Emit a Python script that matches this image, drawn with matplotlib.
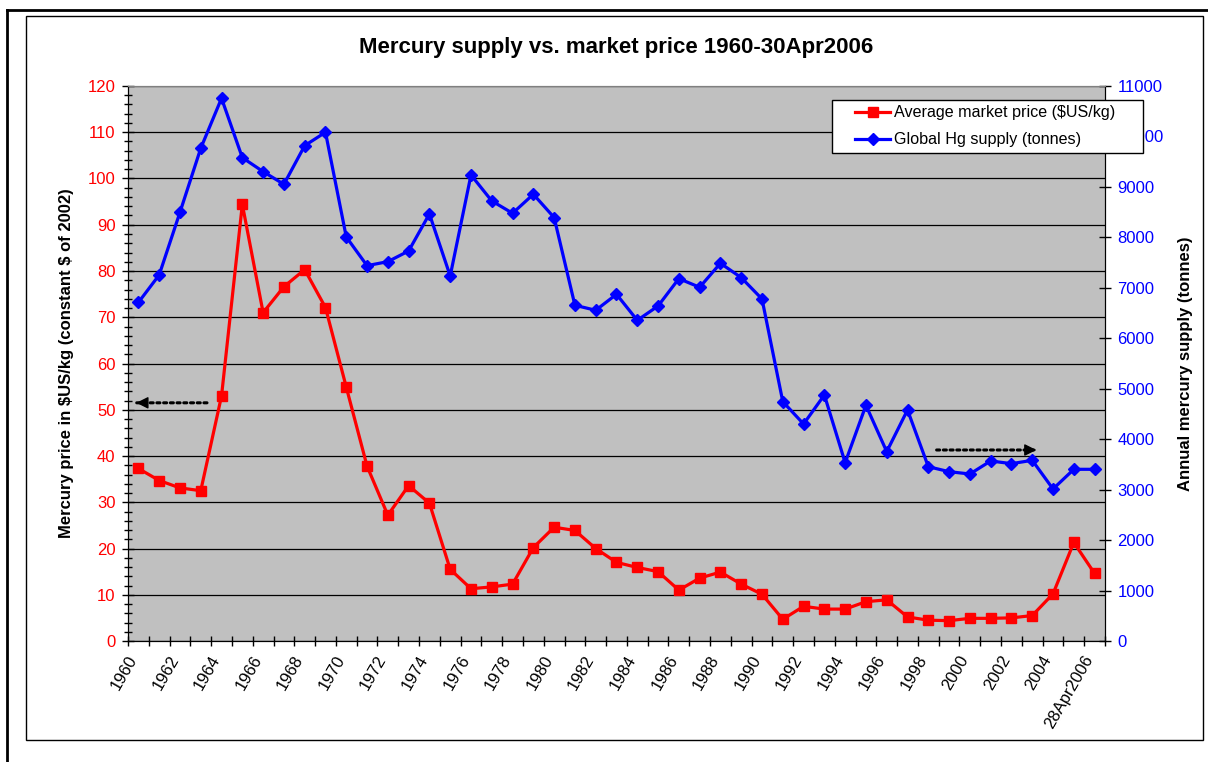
import matplotlib
matplotlib.use("Agg")
import matplotlib.pyplot as plt
from matplotlib.patches import Rectangle
from matplotlib.lines import Line2D
from matplotlib.legend_handler import HandlerLine2D
import numpy as np

plt.rcParams['font.family'] = ['Liberation Sans', 'DejaVu Sans']

# data
years = [str(y) for y in range(1960, 2006)] + ["28Apr2006"]
price = [37.3, 34.7, 33.1, 32.5, 53.0, 94.4, 71.0, 76.6, 80.3, 72.1,
         54.9, 37.8, 27.2, 33.6, 29.8, 15.5, 11.3, 11.7, 12.3, 20.2,
         24.6, 23.9, 20.0, 17.0, 15.9, 15.0, 11.0, 13.6, 14.9, 12.3,
         10.1, 4.7, 7.5, 6.9, 6.9, 8.5, 8.9, 5.2, 4.5, 4.4,
         4.9, 4.9, 5.0, 5.5, 10.2, 21.3, 14.6]
supply = [6710, 7255, 8497, 9766, 10757, 9580, 9303, 9052, 9818, 10083,
          8008, 7439, 7519, 7730, 8464, 7235, 9237, 8722, 8478, 8854,
          8393, 6654, 6555, 6872, 6356, 6640, 7182, 7011, 7487, 7202,
          6779, 4744, 4301, 4876, 3534, 4672, 3753, 4579, 3455, 3356,
          3310, 3568, 3515, 3581, 3013, 3403, 3403]
labels = ["Average market price ($US/kg)", "Global Hg supply (tonnes)"]

x = np.arange(len(years))

fig = plt.figure(figsize=(12.08, 7.62), dpi=100)
ax = fig.add_axes([0.10596, 0.15879, 0.80877, 0.72835])
ax2 = ax.twinx()

ax.set_facecolor('#C0C0C0')
ax.set_xlim(-0.5, len(years) - 0.5)
ax.set_ylim(0, 120)
ax2.set_ylim(0, 11000)

# gridlines
ax.set_yticks(np.arange(0, 121, 10))
ax.set_yticks(np.arange(0, 121, 2), minor=True)
ax.yaxis.grid(True, color='black', lw=0.9)
ax.set_axisbelow(True)

ax.plot(x, price, color='red', lw=2.3, marker='s', ms=6.5, zorder=3)
ax2.plot(x, supply, color='blue', lw=2.3, marker='D', ms=6.5, zorder=3)

# x ticks at category boundaries, labels at centres
ax.set_xticks(np.arange(-0.5, len(years)))
ax.set_xticklabels([])
for i in range(0, len(years), 2):
    ax.text(x[i] - 0.55, -2.6, years[i], rotation=60, ha='right', va='top',
            rotation_mode='anchor', fontsize=12)
ax.tick_params(axis='x', direction='inout', length=7, width=1, colors='black')

ax.tick_params(axis='y', which='major', direction='inout', length=8, width=1,
               labelcolor='red', labelsize=12, pad=5)
ax.tick_params(axis='y', which='minor', direction='inout', length=6, width=1)
ax2.set_yticks(np.arange(0, 11001, 1000))
ax2.tick_params(axis='y', direction='inout', length=8, width=1,
                labelcolor='blue', labelsize=12, pad=5)

ax.spines['top'].set_color('#808080')
ax2.spines['top'].set_color('#808080')

ax.set_ylabel("Mercury price in \\$US/kg (constant \\$ of 2002)", fontsize=12,
              fontweight='bold', labelpad=10)
ax2.set_ylabel("Annual mercury supply (tonnes)", fontsize=12,
               fontweight='bold', labelpad=10)
ax.set_title("Mercury supply vs. market price 1960-30Apr2006", fontsize=16,
             fontweight='bold', pad=24)

# dotted arrows pointing at the axes: dotted shaft + solid head
def dotted_arrow(x0, x1, y):
    ax.annotate("", xy=(x1, y), xytext=(x0, y),
                arrowprops=dict(arrowstyle='-', ls=(0, (1, 1.2)), lw=2.2,
                                color='black', shrinkA=0, shrinkB=0), zorder=4)
    d = 0.3 if x1 > x0 else -0.3
    ax.annotate("", xy=(x1, y), xytext=(x1 - d, y),
                arrowprops=dict(arrowstyle='-|>', lw=1, color='black',
                                mutation_scale=18, shrinkA=0, shrinkB=0),
                zorder=5)

dotted_arrow(3.3, -0.1, 51.5)
dotted_arrow(38.4, 43.2, 41.3)

handles = [Line2D([], [], color='red', lw=2.3, marker='s', ms=6.5),
           Line2D([], [], color='blue', lw=2.3, marker='D', ms=6.5)]
leg = fig.legend(handles, labels,
                 loc='upper left', bbox_to_anchor=(0.6887, 0.8688 - 0.07, 0.2575, 0.07),
                 mode='expand', fancybox=False, edgecolor='black', framealpha=1,
                 fontsize=11.6, handlelength=3.3, borderaxespad=0,
                 borderpad=0.33, labelspacing=0.75, handletextpad=0.2,
                 handler_map={Line2D: HandlerLine2D(xpad=1.1)})
leg.get_frame().set_linewidth(1)

# chart border and page frame lines
fig.add_artist(Rectangle((26 / 1208, 1 - 740 / 762), 1177 / 1208, 724 / 762,
                         transform=fig.transFigure, fill=False,
                         edgecolor='black', lw=1))
fig.add_artist(Line2D([7 / 1208, 1], [1 - 10 / 762, 1 - 10 / 762],
                      transform=fig.transFigure, color='black', lw=2))
fig.add_artist(Line2D([7 / 1208, 7 / 1208], [0, 1 - 10 / 762],
                      transform=fig.transFigure, color='black', lw=2))

fig.savefig("out.png", dpi=100)
